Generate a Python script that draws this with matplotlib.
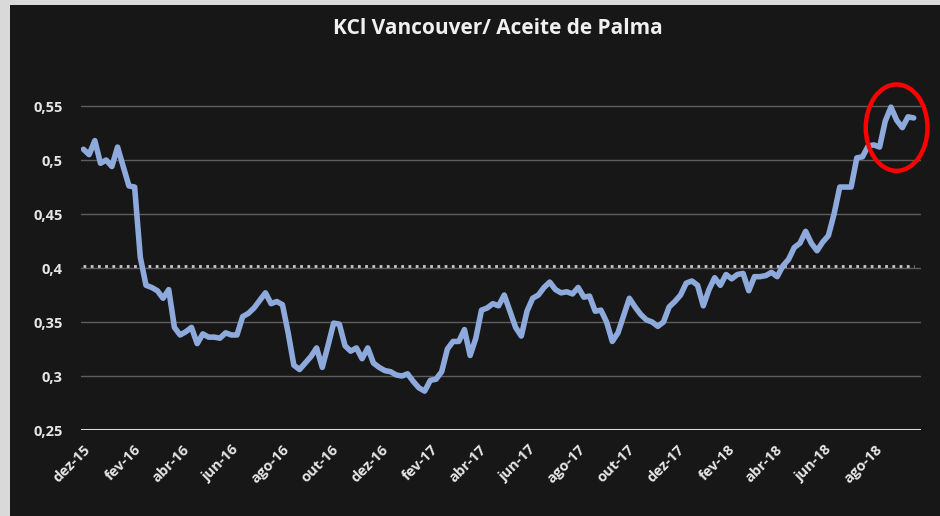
import matplotlib
matplotlib.use("Agg")
import matplotlib.pyplot as plt
import matplotlib.dates as mdates
from matplotlib.patches import Ellipse, Rectangle
import pandas as pd

plt.rcParams['font.family'] = ['Open Sans', 'DejaVu Sans']

title = "KCl Vancouver/ Aceite de Palma"
start_date = "2015-12-01"
values = [
    0.510, 0.505, 0.518, 0.497, 0.500, 0.494, 0.512, 0.494, 0.476, 0.475,
    0.410, 0.384, 0.382, 0.379, 0.372, 0.380, 0.345, 0.338, 0.341, 0.345,
    0.330, 0.339, 0.336, 0.336, 0.335, 0.340, 0.338, 0.338, 0.355, 0.358,
    0.363, 0.370, 0.377, 0.367, 0.369, 0.366, 0.340, 0.310, 0.306, 0.312,
    0.318, 0.326, 0.308, 0.328, 0.349, 0.348, 0.328, 0.323, 0.326, 0.316,
    0.326, 0.312, 0.308, 0.305, 0.304, 0.301, 0.300, 0.302, 0.295, 0.289,
    0.286, 0.296, 0.297, 0.304, 0.325, 0.332, 0.332, 0.343, 0.319, 0.335,
    0.361, 0.363, 0.367, 0.365, 0.375, 0.360, 0.345, 0.337, 0.360, 0.372,
    0.375, 0.382, 0.387, 0.380, 0.377, 0.378, 0.376, 0.382, 0.373, 0.374,
    0.360, 0.361, 0.350, 0.332, 0.340, 0.356, 0.372, 0.364, 0.357, 0.352,
    0.350, 0.346, 0.350, 0.364, 0.369, 0.375, 0.386, 0.388, 0.384, 0.365,
    0.380, 0.391, 0.384, 0.394, 0.390, 0.394, 0.395, 0.379, 0.392, 0.392,
    0.393, 0.396, 0.392, 0.402, 0.408, 0.419, 0.423, 0.434, 0.423, 0.416,
    0.424, 0.430, 0.450, 0.475, 0.475, 0.475, 0.502, 0.503, 0.513, 0.514,
    0.512, 0.536, 0.549, 0.537, 0.530, 0.540, 0.539,
]
average_value = 0.402

y_ticks = [0.25, 0.30, 0.35, 0.40, 0.45, 0.50, 0.55]
y_tick_labels = ["0,25", "0,3", "0,35", "0,4", "0,45", "0,5", "0,55"]
tick_labels = ["dez-15", "fev-16", "abr-16", "jun-16", "ago-16", "out-16",
               "dez-16", "fev-17", "abr-17", "jun-17", "ago-17", "out-17",
               "dez-17", "fev-18", "abr-18", "jun-18", "ago-18"]

dates = pd.date_range(start_date, periods=len(values), freq="7D")
tick_dates = pd.date_range("2015-12-01", periods=len(tick_labels), freq="2MS")

BG = "#171717"
fig = plt.figure(figsize=(9.4, 5.16), dpi=100, facecolor="#d9d9d9")
fig.patches.append(Rectangle((10 / 940, 0), 1, 511 / 516, transform=fig.transFigure,
                             facecolor=BG, edgecolor="none", zorder=-5))

ax = fig.add_axes([81 / 940, 1 - 430 / 516, (921 - 81) / 940, 0.722])
ax.set_facecolor(BG)

ax.set_ylim(0.25, 0.595)
ax.set_xlim(pd.Timestamp("2015-11-28"), pd.Timestamp("2018-09-27"))

for yv in y_ticks[1:]:
    ax.axhline(yv, color="#5e5e5e", lw=1.0, zorder=1)
ax.axhline(0.25, color="#d9d9d9", lw=2.2, zorder=2)

ax.plot(dates, [average_value] * len(dates), color="#c8c8c8", lw=2.0,
        linestyle=(0, (1, 1.6)), zorder=2)
ax.plot(dates, values, color="#8eaadc", lw=4.0, solid_joinstyle="round",
        solid_capstyle="round", zorder=3)

cx = mdates.date2num(pd.Timestamp("2018-08-28"))
ell = Ellipse((cx, 0.530), width=76, height=0.080, facecolor="none",
              edgecolor="#ff0000", lw=3.2, zorder=4, clip_on=False)
ax.add_patch(ell)

for s in ax.spines.values():
    s.set_visible(False)

ax.set_yticks(y_ticks)
ax.set_yticklabels(y_tick_labels)
ax.set_xticks(tick_dates)
ax.set_xticklabels(tick_labels, rotation=45, ha="right", rotation_mode="anchor")
ax.tick_params(axis="both", length=0, colors="#e6e6e6", labelsize=10.5)
ax.tick_params(axis="y", pad=13)
ax.tick_params(axis="x", pad=9)
for lab in ax.get_xticklabels() + ax.get_yticklabels():
    lab.set_fontweight("bold")

fig.text(498 / 940, 1 - 28 / 516, title, ha="center", va="center",
         color="#f0f0f0", fontsize=15, fontweight="bold")

fig.savefig("out.png", dpi=100, facecolor=fig.get_facecolor())
